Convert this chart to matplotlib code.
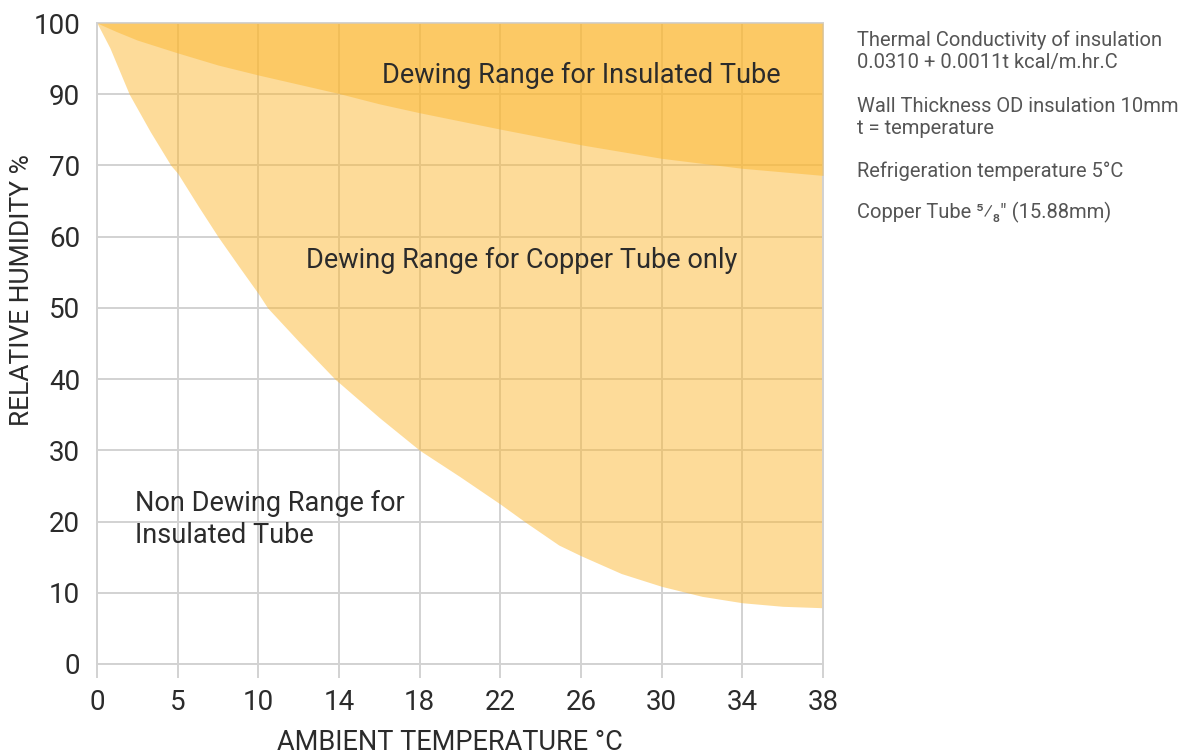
import numpy as np
import matplotlib.pyplot as plt

plt.rcParams['font.family'] = ['Roboto', 'DejaVu Sans']

# axis ticks as printed on the chart (evenly spaced on the page)
temp_ticks = [0, 5, 10, 14, 18, 22, 26, 30, 34, 38]
rh_ticks = [0, 10, 20, 30, 40, 50, 60, 70, 90, 100]

# copper tube only boundary
temp_copper = [0, 0.8, 2, 3.3, 4.58, 5, 6.3, 7.5, 8.8, 10, 10.46, 12, 13.8, 16, 18, 20, 22, 23.2, 24.9, 26, 28, 30, 32, 34, 36, 38]
rh_copper = [100, 96.5, 90, 79.5, 70, 68.9, 64.2, 60, 55.8, 52, 50, 45.3, 40, 34.6, 30, 26.3, 22.45, 20, 16.7, 15.2, 12.7, 10.9, 9.5, 8.6, 8.1, 7.9]

# insulated tube boundary
temp_insul = [0, 1.2, 2.5, 5, 7.5, 10, 12, 14, 16, 18, 22, 26, 30, 34, 38]
rh_insul = [100, 98.8, 97.6, 95.8, 94.1, 92.7, 91.4, 90.1, 87.3, 84.8, 80.2, 75.8, 72.0, 69.6, 68.6]

notes = [
    "Thermal Conductivity of insulation\n0.0310 + 0.0011t kcal/m.hr.C",
    "Wall Thickness OD insulation 10mm\nt = temperature",
    "Refrigeration temperature 5\u00b0C",
    "Copper Tube \u2075\u2044\u2088\" (15.88mm)",
]

tpos = np.arange(len(temp_ticks))
rpos = np.arange(len(rh_ticks))


def to_x(t):
    return np.interp(t, temp_ticks, tpos)


def to_y(r):
    return np.interp(r, rh_ticks, rpos)


fig = plt.figure(figsize=(12, 7.55), dpi=100)
ax = fig.add_axes([97 / 1200, 1 - 664 / 755, 726 / 1200, 641 / 755])

fill_col = (252 / 255, 183 / 255, 47 / 255)
top = len(rh_ticks) - 1
ax.fill_between(to_x(temp_copper), to_y(rh_copper), top, color=fill_col, alpha=0.49, lw=0, zorder=2)
ax.fill_between(to_x(temp_insul), to_y(rh_insul), top, color=fill_col, alpha=0.49, lw=0, zorder=3)

ax.set_xlim(0, len(temp_ticks) - 1)
ax.set_ylim(0, top)
ax.set_xticks(tpos)
ax.set_xticklabels([str(t) for t in temp_ticks])
ax.set_yticks(rpos)
ax.set_yticklabels([str(r) for r in rh_ticks])

grid_col = '#D2D2D2'
ax.grid(True, color=grid_col, lw=1.4, zorder=1)
ax.set_axisbelow(True)
for s in ax.spines.values():
    s.set_color(grid_col)
    s.set_linewidth(1.4)
ax.tick_params(axis='x', length=10, width=1.4, color=grid_col, pad=8, labelsize=20, labelcolor='#2b2b2b')
ax.tick_params(axis='y', length=0, pad=12, labelsize=20, labelcolor='#2b2b2b')

txt = '#2b2b2b'
ax.text(3.53, 8.27, "Dewing Range for Insulated Tube", fontsize=19.5, color=txt, va='center')
ax.text(2.59, 5.67, "Dewing Range for Copper Tube only", fontsize=19.5, color=txt, va='center')
ax.text(0.47, 2.03, "Non Dewing Range for\nInsulated Tube", fontsize=19.5, color=txt, va='center', linespacing=1.25)

fig.text(450 / 1200, 1 - 742 / 755, "AMBIENT TEMPERATURE \u00b0C", fontsize=19.5, color=txt, ha='center', va='center')
fig.text(22 / 1200, 1 - 290 / 755, "RELATIVE HUMIDITY %", fontsize=19, color=txt, ha='center', va='center', rotation=90)

ys = [51, 118, 171, 212]
for note, yy in zip(notes, ys):
    fig.text(857 / 1200, 1 - yy / 755, note, fontsize=14.5, color='#555555', ha='left', va='center', linespacing=1.2)

fig.savefig('out.png', dpi=100)
